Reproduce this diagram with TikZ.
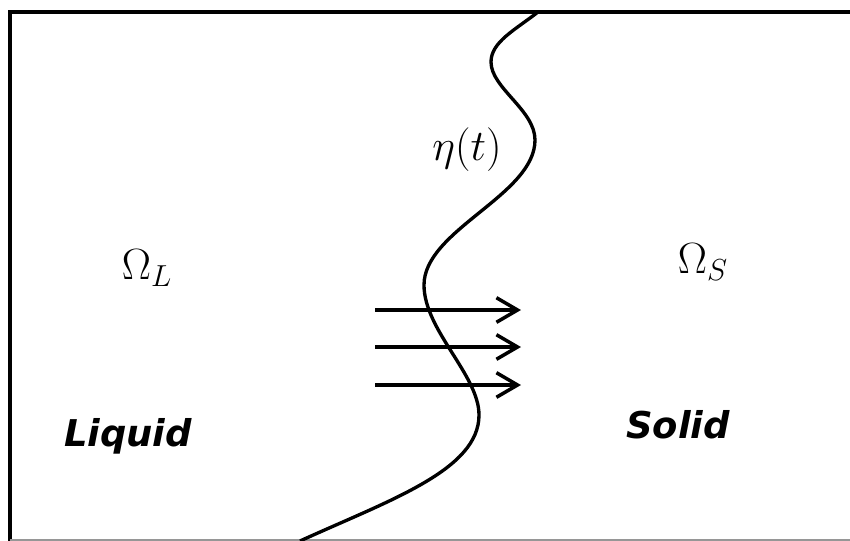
\documentclass[tikz,border=0pt]{standalone}
\usepackage{amsmath}
\usepackage{fontspec}
\usepackage{tikz}
\usetikzlibrary{arrows.meta,calc}
\newfontfamily\phasefont{DejaVu Sans}
\definecolor{FrameGray}{RGB}{150,150,150}

\begin{document}
\begin{tikzpicture}[x=0.02cm,y=-0.02cm,>={Straight Barb[length=12pt,width=14pt]},
    phase/.style={font=\phasefont\fontsize{21}{24}\selectfont\bfseries\itshape},
    region/.style={font=\fontsize{23}{26}\selectfont}]
      \useasboundingbox (0,0) rectangle (850,541);
      \draw[line width=2.2pt] (850,12)--(10,12)--(10,541);
      \draw[FrameGray,line width=.8pt] (10,540)--(850,540);
      % interface
      \draw[line width=1.9pt] (538,12) .. controls (515,30) and (491,42) .. (491,62)
        .. controls (491,88) and (535,110) .. (535,140)
        .. controls (535,195) and (424,230) .. (424,285)
        .. controls (424,330) and (479,375) .. (479,415)
        .. controls (479,470) and (390,500) .. (300,541);
      \node[region,font=\fontsize{27}{30}\selectfont] (eta) at (467,150) {$\eta(t)$};
      \node[region] (omL) at (147,268) {$\Omega_L$};
      \node[region] (omS) at (703,262) {$\Omega_S$};
      \node[phase] (liq) at (128,436) {Liquid};
      \node[phase] (sol) at (678,425) {Solid};
      % heat flow
      \foreach \y/\n in {310/1,347/2,385/3}{
        \coordinate (s\n) at (375,\y);
        \coordinate (e\n) at (521,\y);
        \draw[->,line width=2pt] (s\n)--(e\n);
      }
    \end{tikzpicture}
\end{document}
